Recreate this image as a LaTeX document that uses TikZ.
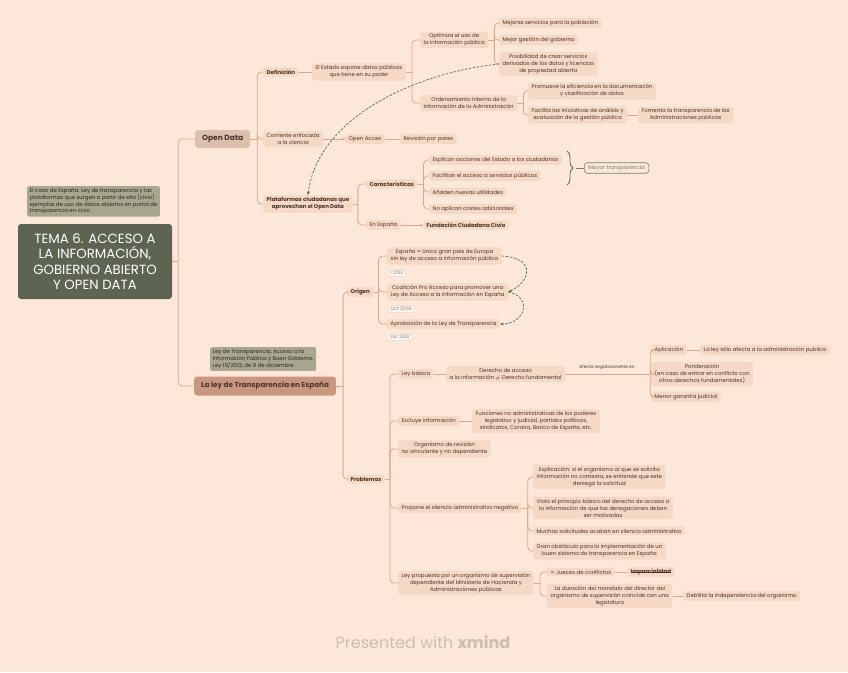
\documentclass[tikz,border=0pt]{standalone}
\usepackage{fontspec}
\setmainfont{Poppins}
\usetikzlibrary{calc,decorations.pathreplacing,arrows.meta}
\definecolor{bgc}{RGB}{253,231,217}
\definecolor{tfill}{RGB}{245,217,197}
\definecolor{lc}{RGB}{219,168,140}
\definecolor{txt}{RGB}{72,52,44}
\definecolor{odfill}{RGB}{220,192,171}
\definecolor{leyfill}{RGB}{201,151,127}
\definecolor{cfill}{RGB}{94,100,82}
\definecolor{nfill}{RGB}{168,166,141}
\definecolor{dgreen}{RGB}{92,106,84}
\definecolor{mtc}{RGB}{118,128,104}
\definecolor{footc}{RGB}{204,190,176}
\definecolor{labc}{RGB}{140,130,122}
\newcommand\mmbr[3]{\draw[conn] (#1.east) -- ++(#3,0); \draw[conn] ($(#1.east)+(#3,0)$) |- (#2.west);}
\tikzset{
  x=1pt, y=-1pt,
  every node/.style={font=\fontsize{5.4}{7}\selectfont, text=txt},
  tp/.style={fill=tfill, rounded corners=2.5pt, inner xsep=3.5pt, inner ysep=2.2pt, align=center, anchor=west},
  bd/.style={font=\fontsize{5.5}{7}\selectfont\bfseries},
  conn/.style={draw=lc, line width=0.8pt, rounded corners=4pt},
  sconn/.style={draw=lc, line width=0.8pt},
  aconn/.style={draw=lc, line width=0.6pt, -{Stealth[length=3pt,width=3pt]}},
  dasharr/.style={draw=dgreen, line width=0.7pt, dash pattern=on 2.5pt off 1.5pt, -{Stealth[length=3.5pt,width=3pt]}},
  lab/.style={fill=white!55!bgc, draw=lc!45, rounded corners=2pt, inner xsep=2.5pt, inner ysep=1.6pt, anchor=west, font=\fontsize{4.7}{5.5}\selectfont, text=labc},
  notebox/.style={fill=nfill, rounded corners=2pt, inner sep=2.5pt, anchor=north west, align=left, font=\fontsize{5.4}{6.6}\selectfont, text=black!85},
}
\begin{document}
\begin{tikzpicture}
\fill[bgc] (0,0) rectangle (848,672);
\useasboundingbox (0,0) rectangle (848,672);

% central
\node[fill=cfill, rounded corners=3pt, minimum width=154pt, minimum height=75pt, align=center, text=white, font=\fontsize{13.3}{15.5}\selectfont] (central) at (95,261.5) {TEMA 6. ACCESO A\\LA INFORMACIÓN,\\GOBIERNO ABIERTO\\Y OPEN DATA};
\node[notebox] (note1) at (27,186) {El caso de España. Ley de transparencia y las\\plataformas que surgen a partir de ella (civio)\\ejemplos de uso de datos abiertos en portal de\\transparencia en civio};

\node[fill=odfill, rounded corners=3pt, anchor=west, minimum height=18pt, inner xsep=7pt, font=\fontsize{7.5}{8.5}\selectfont\bfseries] (od) at (195,139) {Open Data};
\node[fill=leyfill, rounded corners=3pt, anchor=west, minimum height=19pt, inner xsep=7pt, font=\fontsize{7.2}{8.5}\selectfont\bfseries] (ley) at (194,386) {La ley de Transparencia en España};
\node[notebox] (note2) at (210,347) {Ley de Transparencia, Acceso a la\\Información Pública y Buen Gobierno.\\Ley 19/2013, de 9 de diciembre};

% open data subtree
\node[tp,bd] (def) at (263,72) {Definición};
\node[tp] (estado) at (312,72) {El Estado expone datos públicos\\que tiene en su poder};
\node[tp] (optim) at (420,40) {Optimiza el uso de\\la información pública};
\node[tp] (orden) at (420,103) {Ordenamiento interno de la\\información de la Administración};
\node[tp] (mej1) at (499,23) {Mejores servicios para la población};
\node[tp] (mej2) at (499,40) {Mejor gestión del gobierno};
\node[tp] (posib) at (499,64) {Posibilidad de crear servicios\\derivados de los datos y licencias\\de propiedad abierta};
\node[tp] (prom) at (528,91) {Promueve la eficiencia en la documentación\\y clasificación de datos};
\node[tp] (facil) at (528,115) {Facilita las iniciativas de análisis y\\evaluación de la gestión pública};
\node[tp] (foment) at (638,115) {Fomenta la transparencia de las\\Administraciones públicas};
\node[tp] (corr) at (263,139) {Corriente enfocada\\a la ciencia};
\node[tp] (oa) at (345,139) {Open Acces};
\node[tp] (rev) at (400,139) {Revisión por pares};
\node[tp,bd] (plat) at (263,204) {Plataformas ciudadanas que\\aprovechan el Open Data};
\node[tp,bd] (car) at (366,184) {Características};
\node[tp] (esp) at (366,225) {En España};
\node[tp,bd] (civio) at (423,225) {Fundación Ciudadana Civio};
\node[tp] (c1) at (429,160) {Explican acciones del Estado a los ciudadanos};
\node[tp] (c2) at (429,176) {Facilitan el acceso a servicios públicos};
\node[tp] (c3) at (429,192) {Añaden nuevas utilidades};
\node[tp] (c4) at (429,209) {No aplican costes adicionales};
\node[draw=mtc, line width=0.6pt, fill=bgc, rounded corners=3pt, anchor=west, inner xsep=4pt, inner ysep=2.5pt, text=mtc] (mayor) at (584,168) {Mayor transparencia};

% ley subtree
\node[tp,bd] (orig) at (347,292) {Origen};
\node[tp,bd] (prob) at (347,479) {Problemas};
\node[tp] (o1) at (387,256) {España = único gran país de Europa\\sin ley de acceso a información pública};
\node[lab] (l1) at (388,273) {<2013};
\node[tp] (o2) at (387,292) {Coalición Pro Acceso para promover una\\Ley de Acceso a la Información en España};
\node[lab] (l2) at (388,309) {Oct 2006};
\node[tp] (o3) at (387,324) {Aprobación de la Ley de Transparencia};
\node[lab] (l3) at (388,337) {Dic 2013};

\node[tp] (lb) at (398,374) {Ley básica};
\node[tp] (exc) at (398,421) {Excluye información};
\node[tp] (org) at (398,449) {Organismo de revisión\\no vinculante y no dependiente};
\node[tp] (sil) at (398,508) {Propone el silencio administrativo negativo};
\node[tp] (lp) at (398,583) {Ley propuesta por un organismo de supervisión\\dependiente del Ministerio de Hacienda y\\Administraciones públicas};
\node[tp] (der) at (446,374) {Derecho de acceso\\a la información $\neq$ Derecho fundamental};
\node[font=\fontsize{4.3}{5}\selectfont] (afecta) at (607,367) {Afecta negativamente en};
\node[tp] (apl) at (651,350) {Aplicación};
\node[tp] (solo) at (700,350) {La ley sólo afecta a la administración publica};
\node[tp] (pond) at (651,374) {Ponderación\\(en caso de entrar en conflicto con\\otros derechos fundamentales)};
\node[tp] (men) at (651,397) {Menor garantía judicial};
\node[tp] (func) at (472,421) {Funciones no administrativas de los poderes\\legislativo y judicial, partidos políticos,\\sindicatos, Corona, Banco de España, etc.};
\node[tp] (s1) at (533,477) {Explicación: si el organismo al que se solicita\\información no contesta, se entiende que este\\deniega la solicitud};
\node[tp] (s2) at (533,508) {Viola el principio básico del derecho de acceso a\\la información de que las denegaciones deben\\ser motivadas};
\node[tp] (s3) at (533,531) {Muchas solicitudes acaban en silencio administrativo};
\node[tp] (s4) at (533,551) {Gran obstáculo para la implementación de un\\buen sistema de transparencia en España};
\node[tp] (jc) at (547,572) {= Jueces de conflictos};
\node[tp,bd] (imp) at (627,572) {Imparcialidad};
\draw[txt, line width=0.4pt] ([xshift=3.5pt]imp.west) -- ([xshift=-3.5pt]imp.east);
\node[tp] (dur) at (547,596) {La duración del mandato del director del\\organismo de supervisión coincide con una\\legislatura};
\node[tp] (deb) at (683,596) {Debilita la independencia del organismo};

\node[font=\fontsize{16}{18}\selectfont, text=footc] (foot) at (423,642) {Presented with \textbf{xmind}};

% connectors
\mmbr{central}{od}{6}
\mmbr{central}{ley}{6}
\mmbr{od}{def}{7}
\mmbr{od}{corr}{7}
\mmbr{od}{plat}{7}
\draw[sconn] (def) -- (estado);
\mmbr{estado}{optim}{6}
\mmbr{estado}{orden}{6}
\mmbr{optim}{mej1}{6}
\mmbr{optim}{mej2}{6}
\mmbr{optim}{posib}{6}
\mmbr{orden}{prom}{6}
\mmbr{orden}{facil}{6}
\draw[sconn] (facil) -- (foment);
\draw[aconn] (corr) -- (oa);
\draw[sconn] (oa) -- (rev);
\mmbr{plat}{car}{5}
\mmbr{plat}{esp}{5}
\mmbr{car}{c1}{6}
\mmbr{car}{c2}{6}
\mmbr{car}{c3}{6}
\mmbr{car}{c4}{6}
\draw[aconn] (esp) -- (civio);
\coordinate (b1) at (567,151);
\coordinate (b2) at (567,185);
\coordinate (btip) at (576,168);
\draw[dgreen, line width=0.8pt, decorate, decoration={brace, amplitude=6pt}] (b1) -- (b2);
\draw[mtc, line width=0.6pt] (btip) -- (mayor);
\draw[dasharr] (posib.west) .. controls (420,72) and (318,115) .. (plat.north);

\mmbr{ley}{orig}{7}
\mmbr{ley}{prob}{7}
\mmbr{orig}{o1}{5}
\mmbr{orig}{o2}{5}
\mmbr{orig}{o3}{5}
\draw[dasharr] (o1.east) .. controls +(35,2) and +(22,-10) .. (o2.east);
\draw[dasharr] (o2.east) .. controls +(25,5) and +(25,0) .. (o3.east);
\mmbr{prob}{lb}{5}
\mmbr{prob}{exc}{5}
\mmbr{prob}{org}{5}
\mmbr{prob}{sil}{5}
\mmbr{prob}{lp}{5}
\draw[sconn] (lb) -- (der);
\mmbr{der}{apl}{85}
\mmbr{der}{pond}{85}
\mmbr{der}{men}{85}
\draw[sconn] (apl) -- (solo);
\draw[sconn] (exc) -- (func);
\mmbr{sil}{s1}{6}
\mmbr{sil}{s2}{6}
\mmbr{sil}{s3}{6}
\mmbr{sil}{s4}{6}
\mmbr{lp}{jc}{6}
\mmbr{lp}{dur}{6}
\draw[sconn] (jc) -- (imp);
\draw[sconn] (dur) -- (deb);
\end{tikzpicture}
\end{document}
